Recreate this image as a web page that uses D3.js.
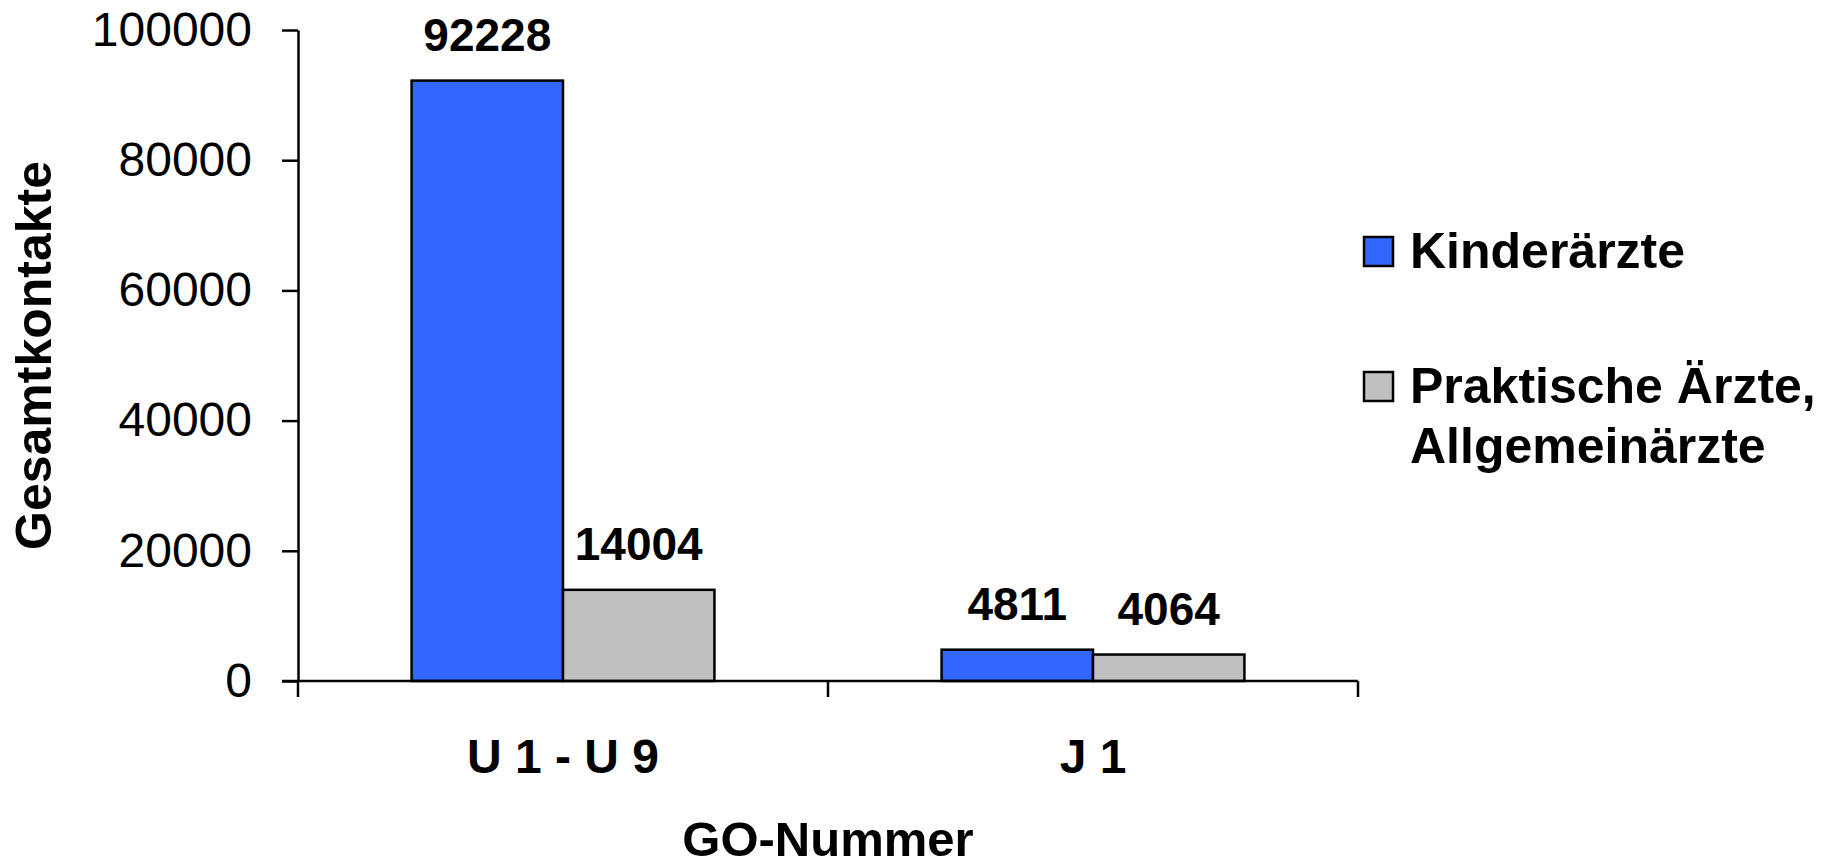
<!DOCTYPE html>
<html>
<head>
<meta charset="utf-8">
<script src="https://cdn.jsdelivr.net/npm/d3@7"></script>
<style>
  body { margin: 0; background: #fff; }
  text { font-family: "Liberation Sans", Arial, sans-serif; fill: #000; }
</style>
</head>
<body>
<div id="chart"></div>
<script>
// Chart data
var categories = ["U 1 - U 9", "J 1"];
var seriesNames = ["Kinderärzte", "Praktische Ärzte, Allgemeinärzte"];
var kinderValues = [92228, 4811];
var praktValues = [14004, 4064];
var yTicks = [0, 20000, 40000, 60000, 80000, 100000];
var seriesColors = ["#3366ff", "#c0c0c0"];

var width = 1822, height = 867;
var plot = { left: 298, right: 1358, top: 30, bottom: 681 };

var svg = d3.select("#chart").append("svg")
    .attr("width", width)
    .attr("height", height);

// Scales
var x0 = d3.scaleBand()
    .domain(categories)
    .range([plot.left, plot.right])
    .padding(0);

var x1 = d3.scaleBand()
    .domain(seriesNames)
    .range([0, x0.bandwidth()])
    .paddingInner(0)
    .paddingOuter(0.75);

var y = d3.scaleLinear()
    .domain([0, 100000])
    .range([plot.bottom, plot.top]);

// Rows for the grouped bars
var rows = categories.map(function (c, i) {
    return { cat: c, values: [kinderValues[i], praktValues[i]] };
});

// Y axis
var yAxis = svg.append("g")
    .attr("transform", `translate(${plot.left},0)`)
    .call(d3.axisLeft(y).tickValues(yTicks).tickSize(16).tickSizeOuter(0).tickPadding(30).tickFormat(d3.format("d")));
yAxis.select(".domain").attr("stroke", "#000").attr("stroke-width", 2.5);
yAxis.selectAll(".tick line").attr("stroke", "#000").attr("stroke-width", 2.5);
yAxis.selectAll(".tick text")
    .attr("dy", "0.32em")
    .style("font-size", "48px")
    .style("font-family", "'Liberation Sans', Arial, sans-serif")
    .attr("fill", "#000");

// Bars
var groups = svg.append("g").selectAll("g")
    .data(rows)
    .join("g")
    .attr("transform", d => `translate(${x0(d.cat)},0)`);

groups.selectAll("rect")
    .data(d => d.values.map((v, i) => ({ name: seriesNames[i], value: v, idx: i })))
    .join("rect")
    .attr("x", d => x1(d.name))
    .attr("y", d => y(d.value))
    .attr("width", x1.bandwidth())
    .attr("height", d => y(0) - y(d.value))
    .attr("fill", d => seriesColors[d.idx])
    .attr("stroke", "#000")
    .attr("stroke-width", 2.5);

// Value labels
groups.selectAll("text.val")
    .data(d => d.values.map((v, i) => ({ name: seriesNames[i], value: v })))
    .join("text")
    .attr("class", "val")
    .attr("x", d => x1(d.name) + x1.bandwidth() / 2)
    .attr("y", d => y(d.value) - 30)
    .attr("text-anchor", "middle")
    .style("font-size", "46px")
    .style("font-weight", "bold")
    .text(d => d.value);

// X axis line and category boundary ticks
var xAxis = svg.append("g");
xAxis.append("line")
    .attr("x1", plot.left - 16)
    .attr("x2", plot.right)
    .attr("y1", y(0))
    .attr("y2", y(0))
    .attr("stroke", "#000")
    .attr("stroke-width", 2.5);

var bounds = categories.map(c => x0(c)).concat([x0(categories[categories.length - 1]) + x0.bandwidth()]);
xAxis.selectAll("line.bound")
    .data(bounds)
    .join("line")
    .attr("class", "bound")
    .attr("x1", d => d)
    .attr("x2", d => d)
    .attr("y1", y(0))
    .attr("y2", y(0) + 16)
    .attr("stroke", "#000")
    .attr("stroke-width", 2.5);

// Category labels
xAxis.selectAll("text.cat")
    .data(categories)
    .join("text")
    .attr("class", "cat")
    .attr("x", d => x0(d) + x0.bandwidth() / 2)
    .attr("y", 773)
    .attr("text-anchor", "middle")
    .style("font-size", "48px")
    .style("font-weight", "bold")
    .text(d => d);

// Axis titles
svg.append("text")
    .attr("x", (plot.left + plot.right) / 2)
    .attr("y", 856)
    .attr("text-anchor", "middle")
    .style("font-size", "49px")
    .style("font-weight", "bold")
    .text("GO-Nummer");

svg.append("text")
    .attr("transform", `translate(51,${(plot.top + plot.bottom) / 2}) rotate(-90)`)
    .attr("text-anchor", "middle")
    .style("font-size", "50px")
    .style("font-weight", "bold")
    .text("Gesamtkontakte");

// Legend
var legendLines = [["Kinderärzte"], ["Praktische Ärzte,", "Allgemeinärzte"]];
var legendY = [268, 403];
var legend = svg.append("g");
legendLines.forEach(function (lines, i) {
    legend.append("rect")
        .attr("x", 1364)
        .attr("y", legendY[i] - 31)
        .attr("width", 29)
        .attr("height", 29)
        .attr("fill", seriesColors[i])
        .attr("stroke", "#000")
        .attr("stroke-width", 2.5);
    var t = legend.append("text")
        .attr("x", 1410)
        .attr("y", legendY[i])
        .style("font-size", "50px")
        .style("font-weight", "bold");
    lines.forEach(function (l, j) {
        t.append("tspan")
            .attr("x", 1410)
            .attr("dy", j == 0 ? 0 : 60)
            .text(l);
    });
});
</script>
</body>
</html>
